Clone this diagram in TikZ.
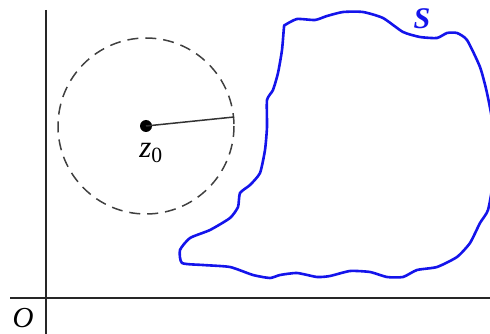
\documentclass[tikz,border=0pt]{standalone}
\usepackage{fontspec}
\setmainfont{Liberation Serif}
\definecolor{blobblue}{RGB}{20,20,235}
\begin{document}
\begin{tikzpicture}[x=1pt,y=-1pt,
  axis/.style={line width=2pt,black!85},
  dashcircle/.style={dash pattern=on 11pt off 7pt,line width=1.5pt,black!75},
  radius line/.style={line width=1.5pt,black!80},
  dot/.style={circle,fill=black,inner sep=0pt,minimum size=12pt},
  blob/.style={blobblue,line width=2.6pt,line join=round},
  lbl/.style={font=\fontsize{29}{30}\selectfont\itshape,inner sep=0pt}]
\useasboundingbox (0,0) rectangle (490,334);
\clip (0,0) rectangle (490,334);
% axes
\coordinate (ytop) at (46,10);
\coordinate (ybot) at (46,334);
\coordinate (xl) at (10,298);
\coordinate (xr) at (490,298);
\draw[axis] (ytop) -- (ybot);
\draw[axis] (xl) -- (xr);
\node[lbl] (O) at (23,318) {O};
% disc
\node[dot] (z0) at (146,126) {};
\draw[dashcircle] (z0.center) circle[radius=88];
\coordinate (rim) at (234,117);
\draw[radius line] (z0.center) -- (rim);
\node[lbl,font=\fontsize{31}{32}\selectfont\itshape] (z0lbl) at (151,153) {z\textsubscript{\upshape 0}};
% region S
\draw[blob] plot[smooth cycle,tension=0.35] coordinates {
 (285,25) (297,19) (315,20) (327,16) (343,12) (363,12) (383,18) (403,32)
 (420,37) (437,38) (447,33) (457,33) (467,40) (480,67) (487,93) (493,127)
 (493,180) (488,210) (480,223) (470,243) (457,257) (437,267) (417,270)
 (403,277) (387,277) (370,272) (350,271) (330,276) (317,277) (297,273)
 (280,275) (270,278) (253,275) (230,267) (203,265) (182,263) (180,250)
 (190,238) (210,230) (230,218) (238,207) (240,193) (250,185) (260,173)
 (265,150) (267,127) (267,100) (273,90) (278,73) (282,50) (284,27)};
\node[lbl,text=blobblue,font=\fontsize{30}{32}\selectfont\bfseries\itshape] (S) at (422,19) {S};
\end{tikzpicture}
\end{document}
